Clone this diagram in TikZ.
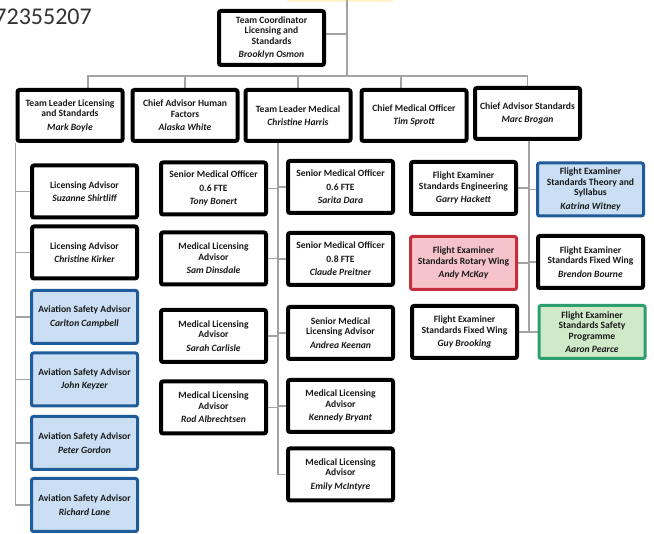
\documentclass[tikz,border=0pt]{standalone}
\usepackage{fontspec}
\setmainfont{Carlito}
\usetikzlibrary{backgrounds}

\definecolor{linkgray}{HTML}{A3A3A3}
\definecolor{advblue}{HTML}{1F5C99}
\definecolor{advbluefill}{HTML}{CADFF4}
\definecolor{wingred}{HTML}{C52F3B}
\definecolor{wingredfill}{HTML}{F6C3CA}
\definecolor{safegreen}{HTML}{2E9E70}
\definecolor{safegreenfill}{HTML}{D0EAC9}
\definecolor{padyellow}{HTML}{FFF2CC}

\newcommand{\who}[2]{#1\\[3pt]{\itshape #2}}

\begin{document}
\begin{tikzpicture}[x=1pt,y=-1pt,
    role/.style={draw=black,line width=4pt,rounded corners=2pt,fill=white,
      minimum width=105pt,minimum height=52pt,inner sep=1pt,align=center,
      text=black!90,font=\fontsize{9.6}{10.5}\selectfont\bfseries},
    asa/.style={role,draw=advblue,fill=advbluefill,line width=3pt,
      minimum width=106pt,minimum height=53pt},
    rotary/.style={asa,draw=wingred,fill=wingredfill},
    safety/.style={asa,draw=safegreen,fill=safegreenfill},
    head/.style={role,minimum height=51pt},
    link/.style={draw=linkgray,line width=1.5pt}]
  \useasboundingbox (0,0) rectangle (654,534);
  \node[anchor=base east,inner sep=0,text=black!80,font=\fontsize{24}{24}\selectfont] (ref) at (92,25) {72355207};
  \node[role,minimum height=54pt] (tc) at (271.5,38) {\who{Team Coordinator\\Licensing and\\Standards}{Brooklyn Osmon}};
  \node[head] (l1) at (70,115.5) {\who{Team Leader Licensing\\and Standards}{Mark Boyle}};
  \node[head] (l2) at (185,115.5) {\who{Chief Advisor Human\\Factors}{Alaska White}};
  \node[head] (l3) at (298,115.5) {\who{Team Leader Medical}{Christine Harris}};
  \node[head] (l4) at (414,115.5) {\who{Chief Medical Officer}{Tim Sprott}};
  \node[head] (l5) at (527.5,113.5) {\who{Chief Advisor Standards}{Marc Brogan}};
  \node[role] (a1) at (84.5,191.5) {\who{Licensing Advisor}{Suzanne Shirtliff}};
  \node[role] (a2) at (84.5,252.5) {\who{Licensing Advisor}{Christine Kirker}};
  \node[asa] (a3) at (84.5,317) {\who{Aviation Safety Advisor}{Carlton Campbell}};
  \node[asa] (a4) at (84.5,379.5) {\who{Aviation Safety Advisor}{John Keyzer}};
  \node[asa] (a5) at (84.5,443) {\who{Aviation Safety Advisor}{Peter Gordon}};
  \node[asa] (a6) at (84.5,505) {\who{Aviation Safety Advisor}{Richard Lane}};
  \node[role] (m1) at (213.5,188.5) {\who{Senior Medical Officer\\[3pt]0.6 FTE}{Tony Bonert}};
  \node[role] (m2) at (213.5,258.5) {\who{Medical Licensing\\Advisor}{Sam Dinsdale}};
  \node[role] (m3) at (213.5,336) {\who{Medical Licensing\\Advisor}{Sarah Carlisle}};
  \node[role] (m4) at (213.5,407.5) {\who{Medical Licensing\\Advisor}{Rod Albrechtsen}};
  \node[role] (n1) at (340.5,187) {\who{Senior Medical Officer\\[3pt]0.6 FTE}{Sarita Dara}};
  \node[role] (n2) at (340.5,259) {\who{Senior Medical Officer\\[3pt]0.8 FTE}{Claude Preitner}};
  \node[role] (n3) at (340.5,333) {\who{Senior Medical\\Licensing Advisor}{Andrea Keenan}};
  \node[role] (n4) at (340.5,406) {\who{Medical Licensing\\Advisor}{Kennedy Bryant}};
  \node[role] (n5) at (340.5,474.5) {\who{Medical Licensing\\Advisor}{Emily McIntyre}};
  \node[role] (s1) at (463.5,188) {\who{Flight Examiner\\Standards Engineering}{Garry Hackett}};
  \node[rotary] (s2) at (463.5,263) {\who{Flight Examiner\\Standards Rotary Wing}{Andy McKay}};
  \node[role] (s3) at (464.5,332) {\who{Flight Examiner\\Standards Fixed Wing}{Guy Brooking}};
  \node[asa] (t1) at (590.5,189.5) {\who{Flight Examiner\\Standards Theory and\\Syllabus}{Katrina Witney}};
  \node[role] (t2) at (590.5,262) {\who{Flight Examiner\\Standards Fixed Wing}{Brendon Bourne}};
  \node[safety] (t3) at (592,332) {\who{Flight Examiner\\Standards Safety\\Programme}{Aaron Pearce}};
  \begin{scope}[on background layer]
    \fill[white] (0,0) rectangle (654,534);
    \fill[padyellow] (287,0) rectangle (393,2);
    \coordinate (top) at (347,0);
    \coordinate (bus) at (347,76);
    \draw[link] (top) -- (bus);
    \draw[link] ([yshift=4pt]tc.east) -- ([yshift=4pt]tc.east -| top);
    \draw[link] ([xshift=18pt]l1.north) |- (bus) -| (l5.north);
    \draw[link] (l2.north) -- (l2.north |- bus);
    \draw[link] (l3.north) -- (l3.north |- bus);
    \draw[link] ([xshift=-13pt]l4.north) -- ([xshift=-13pt]l4.north |- bus);
    \coordinate (lt) at (l1.south west);
    \draw[link] (lt) |- (a6);
    \foreach \n in {a1,a2,a3,a4,a5}
      \draw[link] (\n) -- (\n -| lt);
    \coordinate (mt) at ([xshift=-20pt]l3.south);
    \draw[link] (mt) |- (n5);
    \foreach \n in {m1,m2,m3,m4,n1,n2,n3,n4}
      \draw[link] (\n) -- (\n -| mt);
    \coordinate (rt) at ([xshift=1.5pt]l5.south);
    \draw[link] (rt) |- (t3);
    \foreach \n in {s1,s2,s3,t1,t2}
      \draw[link] (\n) -- (\n -| rt);
  \end{scope}
\end{tikzpicture}
\end{document}
